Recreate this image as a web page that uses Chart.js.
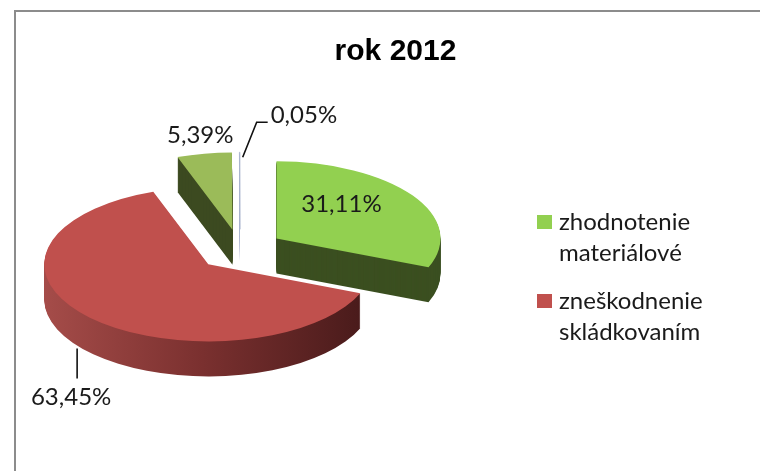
<!DOCTYPE html>
<html>
<head>
<meta charset="utf-8">
<script src="https://cdn.jsdelivr.net/npm/chart.js@4.4.1/dist/chart.umd.min.js"></script>
<style>
  html, body { margin: 0; padding: 0; background: #fff; overflow: hidden; }
  #frame { position: absolute; left: 14px; top: 10px; width: 800px; height: 520px; border: 2px solid #8c8c8c; box-sizing: border-box; }
  #wrap { position: absolute; left: 0; top: 0; width: 760px; height: 471px; }
</style>
</head>
<body>
<div id="frame"></div>
<div id="wrap"><canvas id="pieChart" width="760" height="471"></canvas></div>
<script>
const chartTitle = "rok 2012";
// only the first two categories are named in the legend
const categories = ["zhodnotenie materiálové", "zneškodnenie skládkovaním", "", ""];
const values = [31.11, 63.45, 5.39, 0.05];
const topColors = ["#92d050", "#c0504d", "#9bbb59", "#c3cbe0"];
const sideColors = ["#3b4f20", null, "#3c4a20", "#aab3cc"];

const TILT = 0.47;    // vertical squash of the pie
const DEPTH = 35;     // thickness of the 3d disc
const EXPLODE = 44;   // distance every slice is pulled out
const LABEL_FONT = "24px Lato";

const pct = v => v.toFixed(2).replace(".", ",") + "%";

function sliceGeom(arc) {
  const mid = (arc.startAngle + arc.endAngle) / 2;
  return {
    mid: mid,
    x: arc.x + Math.cos(mid) * EXPLODE,
    y: arc.y + Math.sin(mid) * EXPLODE * TILT,
    r: arc.outerRadius
  };
}

function topPoint(g, angle, frac) {
  return { x: g.x + Math.cos(angle) * g.r * frac, y: g.y + Math.sin(angle) * g.r * frac * TILT };
}

function drawLabels(chart) {
  const ctx = chart.ctx;
  const geo = chart.getDatasetMeta(0).data.map(sliceGeom);
  ctx.save();
  ctx.font = LABEL_FONT;
  ctx.fillStyle = "#1a1a1a";
  ctx.strokeStyle = "#111";
  ctx.lineWidth = 1.6;

  // 31,11% inside its slice
  let p = topPoint(geo[0], geo[0].mid, 0.5);
  ctx.textAlign = "center";
  ctx.textBaseline = "middle";
  ctx.fillText(pct(values[0]), p.x - 3, p.y - 13);

  // 63,45% below the rim with a leader
  p = topPoint(geo[1], geo[1].mid + 0.12, 1);
  p.y += DEPTH;
  ctx.beginPath();
  ctx.moveTo(p.x, p.y + 3);
  ctx.lineTo(p.x, p.y + 33);
  ctx.stroke();
  ctx.textBaseline = "alphabetic";
  ctx.fillText(pct(values[1]), p.x - 6, p.y + 59);

  // 5,39% above its slice
  p = topPoint(geo[2], geo[2].mid, 1);
  ctx.fillText(pct(values[2]), p.x - 4, p.y - 11);

  // 0,05% with a bent leader
  p = topPoint(geo[3], geo[3].mid, 1);
  ctx.beginPath();
  ctx.moveTo(p.x + 3, p.y + 5);
  ctx.lineTo(p.x + 17, p.y - 30);
  ctx.lineTo(p.x + 28, p.y - 30);
  ctx.stroke();
  ctx.textAlign = "left";
  ctx.fillText(pct(values[3]), p.x + 31, p.y - 29);
  ctx.restore();
}

const pie3d = {
  id: "pie3d",
  beforeDatasetsDraw(chart) {
    const ctx = chart.ctx;
    const arcs = chart.getDatasetMeta(0).data;
    const geo = arcs.map(sliceGeom);
    // back slices first
    const order = arcs.map((a, i) => i).sort((a, b) => Math.sin(geo[a].mid) - Math.sin(geo[b].mid));

    order.forEach(i => {
      const arc = arcs[i], g = geo[i];
      ctx.save();
      if (sideColors[i]) {
        ctx.fillStyle = sideColors[i];
      } else {
        const grad = ctx.createLinearGradient(g.x - g.r, 0, g.x + g.r * 0.93, 0);
        grad.addColorStop(0, "#a54c49");
        grad.addColorStop(0.5, "#7a302f");
        grad.addColorStop(1, "#4a1b1b");
        ctx.fillStyle = grad;
      }
      for (let s = DEPTH; s > 0; s--) {
        ctx.beginPath();
        ctx.moveTo(g.x, g.y + s);
        ctx.ellipse(g.x, g.y + s, g.r, g.r * TILT, 0, arc.startAngle, arc.endAngle);
        ctx.closePath();
        ctx.fill();
      }
      ctx.restore();

      // top face is drawn by the arc element, squashed and moved out
      ctx.save();
      ctx.translate(g.x, g.y);
      ctx.scale(1, TILT);
      ctx.translate(-arc.x, -arc.y);
      arc.draw(ctx);
      ctx.restore();
    });
    return false;
  },
  afterDraw(chart) {
    drawLabels(chart);

    const ctx = chart.ctx;
    ctx.save();
    ctx.fillStyle = "#000";
    ctx.font = "bold 30px 'Liberation Sans', Arial, sans-serif";
    ctx.textAlign = "center";
    ctx.textBaseline = "alphabetic";
    ctx.fillText(chartTitle, 395.5, 60);

    // legend, two lines per entry
    ctx.font = LABEL_FONT;
    ctx.textAlign = "left";
    let y = 230;
    categories.forEach((name, i) => {
      if (!name) return;
      const words = name.split(" ");
      ctx.fillStyle = topColors[i];
      ctx.fillRect(537, y - 15, 15, 14);
      ctx.fillStyle = "#1a1a1a";
      ctx.fillText(words[0], 559, y);
      ctx.fillText(words.slice(1).join(" "), 559, y + 31);
      y += 79;
    });
    ctx.restore();
  }
};

const ctx = document.getElementById("pieChart").getContext("2d");
new Chart(ctx, {
  type: "pie",
  data: {
    labels: categories,
    datasets: [{
      data: values,
      backgroundColor: topColors,
      borderWidth: [0, 0, 0, 1],
      borderColor: "#a8b2cc"
    }]
  },
  options: {
    responsive: false,
    animation: false,
    events: [],
    radius: 164,
    layout: { padding: { left: 0, right: 280, top: 29, bottom: 0 } },
    plugins: {
      legend: { display: false },
      tooltip: { enabled: false }
    }
  },
  plugins: [pie3d]
});
</script>
</body>
</html>
